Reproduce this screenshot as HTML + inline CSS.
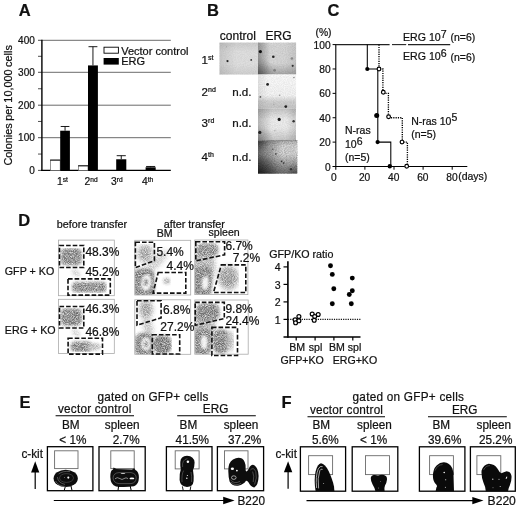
<!DOCTYPE html>
<html lang="en"><head><meta charset="utf-8"><title>Figure</title>
<style>
html,body{margin:0;padding:0;background:#fff;}
svg{display:block;}
text{font-family:"Liberation Sans",Arial,Helvetica,sans-serif;fill:#111;stroke:#111;stroke-width:0.22px;}
</style></head><body>
<svg width="520" height="510" viewBox="0 0 520 510">
<defs>
<filter id="b1" x="-50%" y="-50%" width="200%" height="200%"><feGaussianBlur stdDeviation="1.6"/></filter>
<filter id="b2" x="-50%" y="-50%" width="200%" height="200%"><feGaussianBlur stdDeviation="2.6"/></filter>
<filter id="b05" x="-50%" y="-50%" width="200%" height="200%"><feGaussianBlur stdDeviation="0.45"/></filter>
<filter id="b08" x="-50%" y="-50%" width="200%" height="200%"><feGaussianBlur stdDeviation="0.8"/></filter>
<filter id="st" x="0" y="0" width="100%" height="100%" color-interpolation-filters="sRGB"><feTurbulence type="fractalNoise" baseFrequency="1.1" numOctaves="2" seed="7" result="n"/><feColorMatrix in="n" type="matrix" values="0 0 0 0 0  0 0 0 0 0  0 0 0 0 0  1.5 0 0 0 -0.05" result="na"/><feComposite in="SourceGraphic" in2="na" operator="in"/></filter>
<linearGradient id="oL" x1="0" y1="0" x2="1" y2="0"><stop offset="0" stop-color="#000" stop-opacity="1"/><stop offset="1" stop-color="#000" stop-opacity="0"/></linearGradient>
<linearGradient id="oB" x1="0" y1="1" x2="0" y2="0"><stop offset="0" stop-color="#000" stop-opacity="1"/><stop offset="1" stop-color="#000" stop-opacity="0"/></linearGradient>
<linearGradient id="oT" x1="0" y1="0" x2="0" y2="1"><stop offset="0" stop-color="#000" stop-opacity="1"/><stop offset="1" stop-color="#000" stop-opacity="0"/></linearGradient>
<radialGradient id="oC" cx="0.5" cy="0.5" r="0.5"><stop offset="0" stop-color="#000" stop-opacity="1"/><stop offset="1" stop-color="#000" stop-opacity="0"/></radialGradient>
<clipPath id="cpe1"><rect x="258" y="42.6" width="38.1" height="31.9"/></clipPath>
<clipPath id="cpe3"><rect x="258" y="108.5" width="37.9" height="31.9"/></clipPath>
<clipPath id="cpe4"><rect x="258" y="140.4" width="39.2" height="33.2"/></clipPath>
<filter id="gr" x="0" y="0" width="100%" height="100%" color-interpolation-filters="sRGB"><feTurbulence type="fractalNoise" baseFrequency="0.9" numOctaves="2" seed="11"/><feColorMatrix type="matrix" values="0 0 0 0 0  0 0 0 0 0  0 0 0 0 0  1.8 0 0 0 -0.55"/></filter>
<linearGradient id="gc1" x1="0" y1="0" x2="1" y2="1"><stop offset="0" stop-color="#cfcfcf"/><stop offset="0.4" stop-color="#e0e0e0"/><stop offset="1" stop-color="#d4d4d4"/></linearGradient>
<linearGradient id="ge1" x1="0" y1="1" x2="1" y2="0"><stop offset="0" stop-color="#9c9c9c"/><stop offset="0.5" stop-color="#c8c8c8"/><stop offset="1" stop-color="#d6d6d6"/></linearGradient>
<linearGradient id="ge2" x1="0" y1="0" x2="0" y2="1"><stop offset="0" stop-color="#fafafa"/><stop offset="0.62" stop-color="#f3f3f3"/><stop offset="0.8" stop-color="#cfcfcf"/><stop offset="1" stop-color="#c6c6c6"/></linearGradient>
<radialGradient id="ge3" cx="0.5" cy="0.55" r="0.7"><stop offset="0" stop-color="#f2f2f2"/><stop offset="0.6" stop-color="#e2e2e2"/><stop offset="1" stop-color="#bcbcbc"/></radialGradient>
<linearGradient id="ge4" x1="0" y1="1" x2="1" y2="0"><stop offset="0" stop-color="#4a4a4a"/><stop offset="0.3" stop-color="#a0a0a0"/><stop offset="0.65" stop-color="#d0d0d0"/><stop offset="1" stop-color="#dcdcdc"/></linearGradient>
</defs>

<g id="panelA">
<text x="18.8" y="16" font-size="16.5" font-weight="bold" stroke="#111" stroke-width="0.5">A</text>
<line x1="41.9" y1="137.7" x2="170.8" y2="137.7" stroke="#3a3a3a" stroke-width="0.75"/>
<line x1="41.9" y1="105.2" x2="170.8" y2="105.2" stroke="#3a3a3a" stroke-width="0.75"/>
<line x1="41.9" y1="72.3" x2="170.8" y2="72.3" stroke="#3a3a3a" stroke-width="0.75"/>
<line x1="41.9" y1="40.3" x2="170.8" y2="40.3" stroke="#3a3a3a" stroke-width="0.75"/>
<line x1="38.0" y1="170.4" x2="41.9" y2="170.4" stroke="#222" stroke-width="0.8"/>
<line x1="38.0" y1="154.05" x2="41.9" y2="154.05" stroke="#222" stroke-width="0.8"/>
<line x1="38.0" y1="137.7" x2="41.9" y2="137.7" stroke="#222" stroke-width="0.8"/>
<line x1="38.0" y1="121.45" x2="41.9" y2="121.45" stroke="#222" stroke-width="0.8"/>
<line x1="38.0" y1="105.2" x2="41.9" y2="105.2" stroke="#222" stroke-width="0.8"/>
<line x1="38.0" y1="88.75" x2="41.9" y2="88.75" stroke="#222" stroke-width="0.8"/>
<line x1="38.0" y1="72.3" x2="41.9" y2="72.3" stroke="#222" stroke-width="0.8"/>
<line x1="38.0" y1="56.3" x2="41.9" y2="56.3" stroke="#222" stroke-width="0.8"/>
<line x1="38.0" y1="40.3" x2="41.9" y2="40.3" stroke="#222" stroke-width="0.8"/>
<line x1="41.9" y1="39.8" x2="41.9" y2="171.1" stroke="#000" stroke-width="1.4"/>
<line x1="41.2" y1="170.4" x2="170.8" y2="170.4" stroke="#000" stroke-width="1.4"/>
<text x="34.8" y="174.1" font-size="10" text-anchor="end">0</text>
<text x="34.8" y="141.4" font-size="10" text-anchor="end">100</text>
<text x="34.8" y="108.9" font-size="10" text-anchor="end">200</text>
<text x="34.8" y="76.0" font-size="10" text-anchor="end">300</text>
<text x="34.8" y="44.0" font-size="10" text-anchor="end">400</text>
<text transform="translate(12.3,165.6) rotate(-90)" font-size="10.9" word-spacing="-0.6">Colonies per 10,000 cells</text>
<rect x="50.6" y="160.1" width="9.6" height="10.3" fill="#fff" stroke="#666" stroke-width="0.7"/>
<line x1="50.2" y1="160.1" x2="60.2" y2="160.1" stroke="#111" stroke-width="1.0"/>
<line x1="65.05000000000001" y1="130.71" x2="65.05000000000001" y2="126.49" stroke="#000" stroke-width="0.9"/>
<line x1="60.7" y1="126.49" x2="69.4" y2="126.49" stroke="#000" stroke-width="0.9"/>
<rect x="60.2" y="130.71" width="9.7" height="39.69" fill="#000" stroke="none" stroke-width="1"/>
<rect x="78.60000000000001" y="165.82" width="9.4" height="4.58" fill="#fff" stroke="#666" stroke-width="0.7"/>
<line x1="78.2" y1="165.82" x2="88.0" y2="165.82" stroke="#111" stroke-width="1.0"/>
<line x1="92.95" y1="65.42" x2="92.95" y2="46.7" stroke="#000" stroke-width="0.9"/>
<line x1="88.5" y1="46.7" x2="97.4" y2="46.7" stroke="#000" stroke-width="0.9"/>
<rect x="88.0" y="65.42" width="9.9" height="104.98" fill="#000" stroke="none" stroke-width="1"/>
<line x1="121.25" y1="159.28" x2="121.25" y2="155.69" stroke="#000" stroke-width="0.9"/>
<line x1="116.7" y1="155.69" x2="125.8" y2="155.69" stroke="#000" stroke-width="0.9"/>
<rect x="116.2" y="159.28" width="10.1" height="11.12" fill="#000" stroke="none" stroke-width="1"/>
<line x1="150.64999999999998" y1="167.29" x2="150.64999999999998" y2="166.48" stroke="#000" stroke-width="0.9"/>
<line x1="146.1" y1="166.48" x2="155.2" y2="166.48" stroke="#000" stroke-width="0.9"/>
<rect x="145.6" y="167.29" width="10.1" height="3.11" fill="#000" stroke="none" stroke-width="1"/>
<text x="57.0" y="184.7" font-size="10.3">1<tspan dy="-3.2" font-size="6.6">st</tspan></text>
<text x="84.5" y="184.7" font-size="10.3">2<tspan dy="-3.2" font-size="6.6">nd</tspan></text>
<text x="111.0" y="184.7" font-size="10.3">3<tspan dy="-3.2" font-size="6.6">rd</tspan></text>
<text x="142.0" y="184.7" font-size="10.3">4<tspan dy="-3.2" font-size="6.6">th</tspan></text>
<rect x="104" y="47.2" width="14.4" height="6.0" fill="#fff" stroke="#000" stroke-width="0.9"/>
<rect x="103.6" y="58" width="15.2" height="6.6" fill="#000" stroke="none" stroke-width="1"/>
<text x="121.2" y="54.6" font-size="11">Vector control</text>
<text x="121.2" y="65.4" font-size="11">ERG</text>
</g>
<g id="panelB">
<text x="207.0" y="16" font-size="16.5" font-weight="bold" stroke="#111" stroke-width="0.5">B</text>
<text x="219.8" y="40" font-size="12">control</text>
<text x="265.6" y="40" font-size="12">ERG</text>
<text x="201.6" y="63.7" font-size="11.6">1<tspan dy="-3.6" font-size="7">st</tspan></text>
<text x="201.6" y="95.8" font-size="11.6">2<tspan dy="-3.6" font-size="7">nd</tspan></text>
<text x="201.6" y="126.5" font-size="11.6">3<tspan dy="-3.6" font-size="7">rd</tspan></text>
<text x="201.6" y="160.8" font-size="11.6">4<tspan dy="-3.6" font-size="7">th</tspan></text>
<text x="232.2" y="95.9" font-size="11.6">n.d.</text>
<text x="232.2" y="126.8" font-size="11.6">n.d.</text>
<text x="232.2" y="160.6" font-size="11.6">n.d.</text>
<rect x="219.5" y="42.6" width="38.7" height="31.9" fill="#dedede" stroke="none" stroke-width="1"/>
<rect x="219.5" y="42.6" width="16.5" height="31.9" fill="url(#oL)" stroke="none" stroke-width="1" opacity="0.10"/>
<rect x="219.5" y="42.6" width="38.7" height="9.4" fill="url(#oT)" stroke="none" stroke-width="1" opacity="0.08"/>
<rect x="219.5" y="64" width="38.7" height="10.5" fill="url(#oB)" stroke="none" stroke-width="1" opacity="0.07"/>
<rect x="258.0" y="42.6" width="38.1" height="31.9" fill="#d6d6d6" stroke="none" stroke-width="1"/>
<rect x="258.0" y="42.6" width="12.0" height="31.9" fill="url(#oL)" stroke="none" stroke-width="1" opacity="0.30"/>
<rect x="258.0" y="63" width="38.1" height="11.5" fill="url(#oB)" stroke="none" stroke-width="1" opacity="0.22"/>
<circle cx="258" cy="74.5" r="18" fill="url(#oC)" opacity="0.28" clip-path="url(#cpe1)"/>
<rect x="284" y="42.6" width="12.1" height="31.9" fill="url(#oL)" stroke="none" stroke-width="1" opacity="0.07" transform="rotate(180 290.05 58.55)"/>
<rect x="258.0" y="74.5" width="38.1" height="34.0" fill="url(#ge2)" stroke="none" stroke-width="1"/>
<rect x="258.0" y="74.5" width="10.0" height="34.0" fill="url(#oL)" stroke="none" stroke-width="1" opacity="0.08"/>
<rect x="258.0" y="108.5" width="37.9" height="31.9" fill="#ececec" stroke="none" stroke-width="1"/>
<rect x="258.0" y="108.5" width="37.9" height="10.5" fill="url(#oT)" stroke="none" stroke-width="1" opacity="0.17"/>
<rect x="258.0" y="108.5" width="14.0" height="31.9" fill="url(#oL)" stroke="none" stroke-width="1" opacity="0.22"/>
<rect x="258.0" y="128" width="37.9" height="12.4" fill="url(#oB)" stroke="none" stroke-width="1" opacity="0.16"/>
<rect x="286" y="108.5" width="9.9" height="31.9" fill="url(#oL)" stroke="none" stroke-width="1" opacity="0.12" transform="rotate(180 290.95 124.45)"/>
<circle cx="258" cy="140.4" r="16" fill="url(#oC)" opacity="0.2" clip-path="url(#cpe3)"/>
<rect x="258.0" y="140.4" width="39.2" height="33.2" fill="#d8d8d8" stroke="none" stroke-width="1"/>
<rect x="258.0" y="140.4" width="24.0" height="33.2" fill="url(#oL)" stroke="none" stroke-width="1" opacity="0.50"/>
<rect x="258.0" y="154" width="39.2" height="19.6" fill="url(#oB)" stroke="none" stroke-width="1" opacity="0.50"/>
<rect x="258.0" y="140.4" width="39.2" height="5.6" fill="url(#oT)" stroke="none" stroke-width="1" opacity="0.18"/>
<circle cx="258" cy="173.6" r="20" fill="url(#oC)" opacity="0.45" clip-path="url(#cpe4)"/>
<circle cx="258" cy="140.4" r="12" fill="url(#oC)" opacity="0.35" clip-path="url(#cpe4)"/>
<circle cx="297.2" cy="173.6" r="12" fill="url(#oC)" opacity="0.25" clip-path="url(#cpe4)"/>
<line x1="258.0" y1="140.7" x2="297.2" y2="140.7" stroke="#8a8a8a" stroke-width="0.7"/>
<rect x="258.0" y="140.4" width="39.2" height="33.2" fill="#000" stroke="none" stroke-width="1" filter="url(#gr)" opacity="0.22"/>
<rect x="258.0" y="42.6" width="38.0" height="97.8" fill="#000" stroke="none" stroke-width="1" filter="url(#gr)" opacity="0.08"/>
<rect x="219.5" y="42.6" width="38.5" height="31.9" fill="#000" stroke="none" stroke-width="1" filter="url(#gr)" opacity="0.05"/>
<circle cx="227.5" cy="61.1" r="1.1" fill="#222" filter="url(#b05)"/>
<circle cx="251.2" cy="59.9" r="0.9" fill="#333" filter="url(#b05)"/>
<circle cx="226.5" cy="46.7" r="0.7" fill="#aaa" filter="url(#b05)"/>
<circle cx="260.4" cy="51.6" r="1.6" fill="#111" filter="url(#b05)"/>
<circle cx="273.3" cy="56.8" r="1.3" fill="#222" filter="url(#b05)"/>
<circle cx="291.9" cy="58.5" r="1.3" fill="#888" filter="url(#b05)"/>
<circle cx="292.7" cy="65.8" r="1.1" fill="#333" filter="url(#b05)"/>
<circle cx="274.6" cy="70.3" r="1.4" fill="#808080" filter="url(#b05)"/>
<circle cx="293.9" cy="77.5" r="0.8" fill="#888" filter="url(#b05)"/>
<circle cx="267.6" cy="84.4" r="1.4" fill="#222" filter="url(#b05)"/>
<circle cx="260.4" cy="96.9" r="0.9" fill="#555" filter="url(#b05)"/>
<circle cx="279.7" cy="95.3" r="0.8" fill="#999" filter="url(#b05)"/>
<circle cx="285.8" cy="106.6" r="1.4" fill="#222" filter="url(#b05)"/>
<circle cx="273.7" cy="104.3" r="0.8" fill="#aaa" filter="url(#b05)"/>
<circle cx="279.2" cy="119.4" r="1.6" fill="#1a1a1a" filter="url(#b05)"/>
<circle cx="293.6" cy="121.3" r="1.2" fill="#333" filter="url(#b05)"/>
<circle cx="259.8" cy="132.4" r="1.6" fill="#222" filter="url(#b05)"/>
<circle cx="274.9" cy="130.8" r="0.7" fill="#aaa" filter="url(#b05)"/>
<circle cx="272.8" cy="149.3" r="0.8" fill="#555" filter="url(#b05)"/>
<circle cx="275.8" cy="154" r="0.9" fill="#555" filter="url(#b05)"/>
<circle cx="281.5" cy="161.4" r="0.8" fill="#333" filter="url(#b05)"/>
<circle cx="283.7" cy="163.1" r="0.8" fill="#333" filter="url(#b05)"/>
<circle cx="291" cy="169.2" r="1.2" fill="#333" filter="url(#b05)"/>
<circle cx="260.7" cy="142.4" r="0.9" fill="#444" filter="url(#b05)"/>
</g>
<g id="panelC">
<text x="327.6" y="16" font-size="16.5" font-weight="bold" stroke="#111" stroke-width="0.5">C</text>
<text x="315.5" y="35.9" font-size="10.3">(%)</text>
<line x1="335.8" y1="44.1" x2="335.8" y2="169.7" stroke="#000" stroke-width="1.1"/>
<line x1="332.8" y1="166.5" x2="467.3" y2="166.5" stroke="#000" stroke-width="1.1"/>
<line x1="332.6" y1="166.5" x2="335.8" y2="166.5" stroke="#000" stroke-width="1"/>
<text x="330.6" y="170.5" font-size="10.2" text-anchor="end">0</text>
<line x1="332.6" y1="142.12" x2="335.8" y2="142.12" stroke="#000" stroke-width="1"/>
<text x="330.6" y="146.12" font-size="10.2" text-anchor="end">20</text>
<line x1="332.6" y1="117.74" x2="335.8" y2="117.74" stroke="#000" stroke-width="1"/>
<text x="330.6" y="121.74" font-size="10.2" text-anchor="end">40</text>
<line x1="332.6" y1="93.36" x2="335.8" y2="93.36" stroke="#000" stroke-width="1"/>
<text x="330.6" y="97.36" font-size="10.2" text-anchor="end">60</text>
<line x1="332.6" y1="68.98" x2="335.8" y2="68.98" stroke="#000" stroke-width="1"/>
<text x="330.6" y="72.98" font-size="10.2" text-anchor="end">80</text>
<line x1="332.6" y1="44.6" x2="335.8" y2="44.6" stroke="#000" stroke-width="1"/>
<text x="330.6" y="48.6" font-size="10.2" text-anchor="end">100</text>
<line x1="364.9" y1="166.5" x2="364.9" y2="169.7" stroke="#000" stroke-width="1"/>
<line x1="394.0" y1="166.5" x2="394.0" y2="169.7" stroke="#000" stroke-width="1"/>
<line x1="423.1" y1="166.5" x2="423.1" y2="169.7" stroke="#000" stroke-width="1"/>
<line x1="452.2" y1="166.5" x2="452.2" y2="169.7" stroke="#000" stroke-width="1"/>
<text x="333.8" y="180.9" font-size="10.2" text-anchor="middle">0</text>
<text x="364.59999999999997" y="180.9" font-size="10.2" text-anchor="middle">20</text>
<text x="393.7" y="180.9" font-size="10.2" text-anchor="middle">40</text>
<text x="422.8" y="180.9" font-size="10.2" text-anchor="middle">60</text>
<text x="451.9" y="180.9" font-size="10.2" text-anchor="middle">80</text>
<text x="458.2" y="180.4" font-size="10.5">(days)</text>
<line x1="335.8" y1="44.6" x2="389.6" y2="44.6" stroke="#222" stroke-width="1.1"/>
<line x1="392" y1="44.6" x2="406.2" y2="44.6" stroke="#222" stroke-width="1.1"/>
<line x1="408" y1="44.6" x2="450.2" y2="44.6" stroke="#222" stroke-width="1.1"/>
<polyline fill="none" stroke="#000" stroke-width="1.05" points="367.3,44.6 367.3,68.98 377.8,68.98 377.8,142.12 390.8,142.12 390.8,166.5"/>
<circle cx="367.3" cy="68.98" r="2.1" fill="#000"/>
<circle cx="376.7" cy="115.6" r="2.5" fill="#000"/>
<circle cx="377.6" cy="142.12" r="2.1" fill="#000"/>
<circle cx="389.8" cy="166.2" r="2.2" fill="#000"/>
<polyline fill="none" stroke="#000" stroke-width="1.35" stroke-dasharray="1.2 1.1" points="379,44.6 379,68.98 382.9,68.98 382.9,93.36 388.4,93.36 388.4,117.74 402.3,117.74 402.3,142.12 407.4,142.12 407.4,166.5"/>
<circle cx="379" cy="68.98" r="1.85" fill="#fff" stroke="#000" stroke-width="1.2"/>
<circle cx="383.3" cy="92.2" r="1.85" fill="#fff" stroke="#000" stroke-width="1.2"/>
<circle cx="388.6" cy="116.8" r="1.85" fill="#fff" stroke="#000" stroke-width="1.2"/>
<circle cx="402" cy="142.12" r="1.85" fill="#fff" stroke="#000" stroke-width="1.2"/>
<circle cx="406.7" cy="166.3" r="1.85" fill="#fff" stroke="#000" stroke-width="1.2"/>
<text x="403" y="40.9" font-size="10.6">ERG 10<tspan dy="-3.4">7</tspan></text>
<text x="450.6" y="41.4" font-size="10.4">(n=6)</text>
<text x="403" y="60.3" font-size="10.6">ERG 10<tspan dy="-3.6">6</tspan></text>
<text x="450.6" y="60.8" font-size="10.4">(n=6)</text>
<text x="345" y="134" font-size="10.5">N-ras</text>
<text x="345" y="148.2" font-size="10.5">10<tspan dy="-3.6">6</tspan></text>
<text x="345" y="160.8" font-size="10.5">(n=5)</text>
<text x="411.2" y="125.2" font-size="10.5">N-ras 10<tspan dy="-4.2">5</tspan></text>
<text x="411.2" y="137.8" font-size="10.5">(n=5)</text>
</g>
<g id="panelD">
<text x="18.2" y="226.2" font-size="16.5" font-weight="bold" stroke="#111" stroke-width="0.5">D</text>
<text x="56.8" y="227.8" font-size="10.8">before transfer</text>
<text x="163.7" y="227.8" font-size="10.8">after transfer</text>
<text x="156.8" y="237.4" font-size="10.6">BM</text>
<text x="208.5" y="236.3" font-size="10.6">spleen</text>
<text x="4.8" y="274.5" font-size="10.7">GFP + KO</text>
<text x="4.8" y="334.3" font-size="10.7">ERG + KO</text>
<clipPath id="cpb1"><rect x="58.4" y="240.1" width="55.9" height="55.6"/></clipPath>
<clipPath id="cpb2"><rect x="58.4" y="299.3" width="55.9" height="54.3"/></clipPath>
<clipPath id="cpm1"><rect x="134.8" y="240.3" width="55.9" height="54.7"/></clipPath>
<clipPath id="cpm2"><rect x="134.8" y="299.8" width="55.9" height="54.5"/></clipPath>
<clipPath id="cps1"><rect x="194.8" y="240.0" width="53.1" height="54.6"/></clipPath>
<clipPath id="cps2"><rect x="194.8" y="300.0" width="53.4" height="54.2"/></clipPath>
<g clip-path="url(#cpb1)"><g filter="url(#st)">
<rect x="60.6" y="248.3" width="21.2" height="16.9" rx="5" fill="#6e6e6e" opacity="1" filter="url(#b1)"/>
<rect x="72" y="282" width="34.5" height="10.5" rx="4.5" fill="#6e6e6e" opacity="1" filter="url(#b1)"/>
<ellipse cx="76" cy="273" rx="5" ry="3" fill="#ccc" opacity="1" filter="url(#b1)" transform="rotate(35 76 273)"/>
</g></g>
<g clip-path="url(#cpb2)"><g filter="url(#st)">
<rect x="60.6" y="308.5" width="21.2" height="17.3" rx="5" fill="#6c6c6c" opacity="1" filter="url(#b1)"/>
<rect x="70.5" y="341.5" width="21.5" height="10.5" rx="5" fill="#6e6e6e" opacity="1" filter="url(#b1)"/>
<ellipse cx="94" cy="346.8" rx="7" ry="3.6" fill="#aaa" opacity="1" filter="url(#b1)"/>
<ellipse cx="76" cy="333" rx="5" ry="3" fill="#ccc" opacity="1" filter="url(#b1)" transform="rotate(35 76 333)"/>
</g></g>
<g clip-path="url(#cpm1)"><g filter="url(#st)">
<ellipse cx="156" cy="262" rx="16" ry="5" fill="#c0c0c0" opacity="1" filter="url(#b2)" transform="rotate(-45 156 262)"/>
<ellipse cx="145.2" cy="253.5" rx="7.5" ry="9" fill="#8e8e8e" opacity="1" filter="url(#b2)"/>
<rect x="133" y="268.5" width="21.5" height="28.5" rx="7" fill="#6a6a6a" opacity="1" filter="url(#b1)"/>
<ellipse cx="146.2" cy="282.6" rx="5.0" ry="8.2" fill="#f2f2f2" opacity="1" filter="url(#b08)" transform="rotate(8 146.2 282.6)"/>
<ellipse cx="145.9" cy="282.3" rx="2.0" ry="3.8" fill="#6a6a6a" opacity="1" filter="url(#b08)" transform="rotate(8 145.9 282.3)"/>
<ellipse cx="166.8" cy="281" rx="3.4" ry="3" fill="#9a9a9a" opacity="1" filter="url(#b1)"/>
</g></g>
<g clip-path="url(#cpm2)"><g filter="url(#st)">
<ellipse cx="148" cy="327" rx="4.5" ry="9" fill="#b0b0b0" opacity="1" filter="url(#b2)" transform="rotate(-15 148 327)"/>
<ellipse cx="146" cy="309.5" rx="6.5" ry="9.5" fill="#8a8a8a" opacity="1" filter="url(#b2)"/>
<rect x="134.5" y="333" width="19.0" height="23" rx="7" fill="#6c6c6c" opacity="1" filter="url(#b1)"/>
<ellipse cx="146" cy="344" rx="4.6" ry="6.6" fill="#f0f0f0" opacity="1" filter="url(#b08)"/>
<ellipse cx="146" cy="344" rx="2.0" ry="3.4" fill="#707070" opacity="1" filter="url(#b08)"/>
<rect x="153.5" y="335.5" width="18.0" height="18.0" rx="6.5" fill="#606060" opacity="1" filter="url(#b1)"/>
</g></g>
<g clip-path="url(#cps1)"><g filter="url(#st)">
<ellipse cx="204" cy="266" rx="11" ry="20" fill="#a4a4a4" opacity="1" filter="url(#b2)"/>
<rect x="196.5" y="243.5" width="22.0" height="12.5" rx="5.5" fill="#747474" opacity="1" filter="url(#b1)"/>
<rect x="193" y="266" width="19" height="30.5" rx="7" fill="#6c6c6c" opacity="1" filter="url(#b1)"/>
<ellipse cx="205.3" cy="283" rx="3.4" ry="7" fill="#efefef" opacity="1" filter="url(#b08)" transform="rotate(5 205.3 283)"/>
<ellipse cx="228.6" cy="277.7" rx="10" ry="12" fill="#8c8c8c" opacity="1" filter="url(#b2)"/>
<ellipse cx="227.5" cy="278" rx="4.5" ry="6" fill="#858585" opacity="1" filter="url(#b2)"/>
</g></g>
<g clip-path="url(#cps2)"><g filter="url(#st)">
<ellipse cx="204" cy="328" rx="11" ry="22" fill="#a0a0a0" opacity="1" filter="url(#b2)"/>
<rect x="196" y="303.8" width="23.5" height="16.7" rx="6" fill="#6a6a6a" opacity="1" filter="url(#b1)"/>
<rect x="193.5" y="328" width="17.5" height="28" rx="7" fill="#6e6e6e" opacity="1" filter="url(#b1)"/>
<ellipse cx="204.2" cy="342.3" rx="3.3" ry="7" fill="#ededed" opacity="1" filter="url(#b08)"/>
<rect x="213" y="329.5" width="16" height="24.0" rx="7" fill="#686868" opacity="1" filter="url(#b1)"/>
<ellipse cx="230" cy="341" rx="4" ry="10" fill="#a0a0a0" opacity="1" filter="url(#b2)"/>
</g></g>
<rect x="58.4" y="240.1" width="55.9" height="55.6" fill="none" stroke="#aaa" stroke-width="0.8"/>
<rect x="58.4" y="299.3" width="55.9" height="54.3" fill="none" stroke="#aaa" stroke-width="0.8"/>
<rect x="134.8" y="240.3" width="55.9" height="54.7" fill="none" stroke="#aaa" stroke-width="0.8"/>
<rect x="134.8" y="299.8" width="55.9" height="54.5" fill="none" stroke="#aaa" stroke-width="0.8"/>
<rect x="194.8" y="240.0" width="53.1" height="54.6" fill="none" stroke="#aaa" stroke-width="0.8"/>
<rect x="194.8" y="300.0" width="53.4" height="54.2" fill="none" stroke="#aaa" stroke-width="0.8"/>
<polygon points="59.5,245.5 83.8,245.5 83.8,267.5 59.5,267.5" fill="none" stroke="#111" stroke-width="1.6" stroke-dasharray="4.6 2.0"/>
<polygon points="68.0,278.9 110.3,278.9 110.3,295.1 68.0,295.1" fill="none" stroke="#111" stroke-width="1.6" stroke-dasharray="4.6 2.0"/>
<polygon points="59.5,306.5 83.8,306.5 83.8,328.0 59.5,328.0" fill="none" stroke="#111" stroke-width="1.6" stroke-dasharray="4.6 2.0"/>
<polygon points="68.1,338.2 102.5,338.2 102.5,354.1 68.1,354.1" fill="none" stroke="#111" stroke-width="1.6" stroke-dasharray="4.6 2.0"/>
<polygon points="135.4,242.3 154.4,242.3 154.4,260.7 135.4,267.7" fill="none" stroke="#111" stroke-width="1.6" stroke-dasharray="4.6 2.0"/>
<polygon points="158.2,272.5 185.8,272.5 185.8,293.1 153.1,293.1" fill="none" stroke="#111" stroke-width="1.6" stroke-dasharray="4.6 2.0"/>
<polygon points="137,300.8 161.1,300.8 161.1,317.8 137,325.2" fill="none" stroke="#111" stroke-width="1.6" stroke-dasharray="4.6 2.0"/>
<polygon points="152.3,334.7 179.7,334.7 179.7,354.0 152.3,354.0" fill="none" stroke="#111" stroke-width="1.6" stroke-dasharray="4.6 2.0"/>
<polygon points="195.8,241.8 224.6,241.8 224.6,254.8 195.8,260.9" fill="none" stroke="#111" stroke-width="1.6" stroke-dasharray="4.6 2.0"/>
<polygon points="221.3,264.9 245.8,264.9 245.8,292.5 213.5,292.5" fill="none" stroke="#111" stroke-width="1.6" stroke-dasharray="4.6 2.0"/>
<polygon points="195.2,302.4 224.3,302.4 224.3,318.6 195.2,325.3" fill="none" stroke="#111" stroke-width="1.6" stroke-dasharray="4.6 2.0"/>
<polygon points="211.9,327.4 237.5,327.4 237.5,355.5 211.9,355.5" fill="none" stroke="#111" stroke-width="1.6" stroke-dasharray="4.6 2.0"/>
<text x="85.4" y="256.3" font-size="12">48.3%</text>
<text x="85.4" y="276.4" font-size="12">45.2%</text>
<text x="85.4" y="313.3" font-size="12">46.3%</text>
<text x="85.4" y="335.5" font-size="12">46.8%</text>
<text x="156.4" y="256.1" font-size="12">5.4%</text>
<text x="166.6" y="270.1" font-size="12">4.4%</text>
<text x="163.0" y="313.5" font-size="12">6.8%</text>
<text x="160.3" y="331.3" font-size="12">27.2%</text>
<text x="225.4" y="250.0" font-size="12">6.7%</text>
<text x="232.8" y="262.3" font-size="12">7.2%</text>
<text x="225.4" y="313.3" font-size="12">9.8%</text>
<text x="225.4" y="325.0" font-size="12">24.4%</text>
<text x="269.2" y="257.7" font-size="10.7">GFP/KO ratio</text>
<line x1="287.9" y1="261.3" x2="287.9" y2="337.8" stroke="#000" stroke-width="1.6"/>
<line x1="283.5" y1="337.0" x2="360.5" y2="337.0" stroke="#000" stroke-width="1.6"/>
<line x1="296.2" y1="337.0" x2="296.2" y2="340.4" stroke="#000" stroke-width="1.2"/>
<line x1="315.1" y1="337.0" x2="315.1" y2="340.4" stroke="#000" stroke-width="1.2"/>
<line x1="333.9" y1="337.0" x2="333.9" y2="340.4" stroke="#000" stroke-width="1.2"/>
<line x1="352.8" y1="337.0" x2="352.8" y2="340.4" stroke="#000" stroke-width="1.2"/>
<line x1="283.5" y1="319.4" x2="287.9" y2="319.4" stroke="#000" stroke-width="1.2"/>
<text x="280.7" y="323.5" font-size="10.6" text-anchor="end">1</text>
<line x1="283.5" y1="301.9" x2="287.9" y2="301.9" stroke="#000" stroke-width="1.2"/>
<text x="280.7" y="306.0" font-size="10.6" text-anchor="end">2</text>
<line x1="283.5" y1="284.4" x2="287.9" y2="284.4" stroke="#000" stroke-width="1.2"/>
<text x="280.7" y="288.5" font-size="10.6" text-anchor="end">3</text>
<line x1="283.5" y1="266.9" x2="287.9" y2="266.9" stroke="#000" stroke-width="1.2"/>
<text x="280.7" y="271.0" font-size="10.6" text-anchor="end">4</text>
<line x1="287.9" y1="319.4" x2="360.5" y2="319.4" stroke="#111" stroke-width="1.3" stroke-dasharray="1.2 1.1"/>
<circle cx="295.1" cy="319.8" r="1.95" fill="#fff" stroke="#000" stroke-width="1.2"/>
<circle cx="298.9" cy="316.5" r="1.95" fill="#fff" stroke="#000" stroke-width="1.2"/>
<circle cx="295.6" cy="322.8" r="1.95" fill="#fff" stroke="#000" stroke-width="1.2"/>
<circle cx="298.9" cy="320.8" r="1.95" fill="#fff" stroke="#000" stroke-width="1.2"/>
<circle cx="312.2" cy="314" r="1.95" fill="#fff" stroke="#000" stroke-width="1.2"/>
<circle cx="318.2" cy="314.5" r="1.95" fill="#fff" stroke="#000" stroke-width="1.2"/>
<circle cx="314.7" cy="316.5" r="1.95" fill="#fff" stroke="#000" stroke-width="1.2"/>
<circle cx="314.2" cy="320.3" r="1.95" fill="#fff" stroke="#000" stroke-width="1.2"/>
<circle cx="330.5" cy="265.8" r="2.45" fill="#000"/>
<circle cx="332.3" cy="274.4" r="2.45" fill="#000"/>
<circle cx="333.8" cy="288.7" r="2.45" fill="#000"/>
<circle cx="332.3" cy="303.7" r="2.45" fill="#000"/>
<circle cx="352.3" cy="278.1" r="2.45" fill="#000"/>
<circle cx="352.3" cy="290.7" r="2.45" fill="#000"/>
<circle cx="349.3" cy="294.5" r="2.45" fill="#000"/>
<circle cx="351.3" cy="303.7" r="2.45" fill="#000"/>
<text x="289.3" y="350.8" font-size="10.6">BM</text>
<text x="308.8" y="350.8" font-size="10.6">spl</text>
<text x="329" y="350.8" font-size="10.6">BM</text>
<text x="347.8" y="350.8" font-size="10.6">spl</text>
<text x="280.5" y="363.6" font-size="10.6">GFP+KO</text>
<text x="332.7" y="363.6" font-size="10.6">ERG+KO</text>
</g>
<g id="panelE">
<text x="19.4" y="408" font-size="16.5" font-weight="bold" stroke="#111" stroke-width="0.5">E</text>
<text transform="translate(97.4,400.9) scale(0.95,1)" font-size="12.4" textLength="116.84">gated on GFP+ cells</text>
<text transform="translate(58.0,412.7) scale(0.95,1)" font-size="12.4" textLength="77.16">vector control</text>
<line x1="55.6" y1="415.8" x2="134" y2="415.8" stroke="#000" stroke-width="1.1"/>
<text transform="translate(202.8,412.7) scale(0.95,1)" font-size="12.4">ERG</text>
<line x1="177.2" y1="415.8" x2="255.8" y2="415.8" stroke="#000" stroke-width="1.1"/>
<text transform="translate(62.0,429) scale(0.95,1)" font-size="12.4">BM</text>
<text transform="translate(104.8,428.5) scale(0.95,1)" font-size="12.4">spleen</text>
<text transform="translate(179.6,429) scale(0.95,1)" font-size="12.4">BM</text>
<text transform="translate(223.7,428.5) scale(0.95,1)" font-size="12.4">spleen</text>
<text transform="translate(59.3,443.5) scale(0.95,1)" font-size="12.4">&lt; 1%</text>
<text transform="translate(112.8,443.5) scale(0.95,1)" font-size="12.4">2.7%</text>
<text transform="translate(175.6,443.5) scale(0.95,1)" font-size="12.4">41.5%</text>
<text transform="translate(227.9,443.5) scale(0.95,1)" font-size="12.4">37.2%</text>
<text transform="translate(21.4,458.4) scale(0.95,1)" font-size="12.4">c-kit</text>
<line x1="35.2" y1="489.1" x2="35.2" y2="470" stroke="#000" stroke-width="1.2"/>
<polygon points="35.2,461.3 39.3,472.4 31.1,472.4" fill="#000"/>
<line x1="53.8" y1="500.5" x2="226" y2="500.5" stroke="#000" stroke-width="1.2"/>
<polygon points="234.6,500.5 223.2,496.8 223.2,504.2" fill="#000"/>
<text transform="translate(237.5,505.2) scale(0.95,1)" font-size="12.4">B220</text>
<rect x="47.4" y="446.7" width="45.5" height="44.0" fill="#fff" stroke="#000" stroke-width="1.3"/>
<rect x="54.6" y="450.8" width="23.4" height="17.8" fill="none" stroke="#6a6a6a" stroke-width="0.9"/>
<rect x="99.0" y="446.7" width="46.2" height="44.0" fill="#fff" stroke="#000" stroke-width="1.3"/>
<rect x="110.8" y="450.8" width="23.4" height="17.8" fill="none" stroke="#6a6a6a" stroke-width="0.9"/>
<rect x="166.4" y="446.7" width="45.6" height="44.0" fill="#fff" stroke="#000" stroke-width="1.3"/>
<rect x="175.2" y="450.8" width="23.9" height="18.1" fill="none" stroke="#6a6a6a" stroke-width="0.9"/>
<rect x="217.4" y="446.7" width="46.2" height="44.0" fill="#fff" stroke="#000" stroke-width="1.3"/>
<rect x="224.5" y="450.8" width="23.5" height="18.1" fill="none" stroke="#6a6a6a" stroke-width="0.9"/>
<ellipse cx="65.7" cy="478.4" rx="12.1" ry="8.7" fill="#0d0d0d"/>
<path d="M55.6,481 Q58,486 66,486.6 M57.4,477 Q58,483 65,484.4 M58.6,474 Q63,470.6 70,471.6" fill="none" stroke="#b8b8b8" stroke-width="0.4"/>
<ellipse cx="66.5" cy="478" rx="7" ry="4.4" fill="none" stroke="#8a8a8a" stroke-width="0.35"/>
<path d="M65.4,486.4 L64.2,490.4 M71,486 L72,490.4" stroke="#000" stroke-width="1" fill="none"/>
<circle cx="68.3" cy="477.6" r="1.05" fill="#fff"/><circle cx="64.6" cy="477.6" r="0.45" fill="#ddd"/>
<path d="M110.3,477 Q110.2,470.6 113,469.6 L113.6,467.4 L116.4,469 L132,469.4 L134.4,468.2 L135.4,470 Q138.9,471.6 138.9,477.6 Q138.8,484.6 134,486.2 Q124,487.6 116,486.4 Q110.6,485 110.3,477 Z" fill="#0e0e0e"/>
<path d="M113,478 Q113.4,473 119,472.6 L131,472.6 Q136.2,473.4 136.2,478 Q136,483 131,483.6 L119,483.6 Q113.6,483 113,478 Z" fill="none" stroke="#a8a8a8" stroke-width="0.4"/>
<path d="M115,478.8 Q117,476.6 120,478.6 Q122,480.4 124,478.6 Q126,477 128,478.6" fill="none" stroke="#d8d8d8" stroke-width="0.6"/>
<path d="M118.6,486 L118,490.4 M130.2,486 L131.2,490.4" stroke="#000" stroke-width="1" fill="none"/>
<ellipse cx="131.9" cy="478.4" rx="2.4" ry="0.95" fill="#fff"/><ellipse cx="123" cy="473.6" rx="2.4" ry="0.5" fill="#ccc"/>
<path d="M180.3,462 Q180.6,456 187,455.8 Q194.2,456.2 194.6,462.6 Q194.6,467 193,470 Q194,476 193.6,481 Q193,486.9 187,486.9 Q180.2,486.6 179.6,480 Q179.2,474 180.8,469.6 Q180.1,466 180.3,462 Z" fill="#0c0c0c"/>
<path d="M182.6,467 Q181.8,459.6 187.4,458.6 M182,482 Q181.6,474 183.6,470.6 M191.6,482 Q192,476 191,472" fill="none" stroke="#9a9a9a" stroke-width="0.4"/>
<circle cx="187.9" cy="461.7" r="1.25" fill="#fff"/><circle cx="187.4" cy="475.5" r="0.6" fill="#eee"/><circle cx="186.8" cy="478.2" r="0.75" fill="#eee"/>
<path d="M182.4,486.4 L183.2,490.4 M190.8,486.4 L190.1,490.4" stroke="#000" stroke-width="0.9" fill="none"/>
<path d="M228.3,471 Q228.2,462 233,459.4 Q238,456.6 242,458.6 Q245.8,461.6 245.6,468 Q245.4,471.4 246.6,471.6 Q248,470.4 248.8,468.4 Q250.6,464.6 253,464.7 Q258.4,466.6 258.6,476 Q258.4,485.6 254,487.6 Q250.4,486.6 248.6,482.6 Q247.4,480.4 246,480.8 Q244,484.4 238,485.8 Q232,486.4 229.6,481.6 Q228.4,477.6 228.3,471 Z" fill="#0d0d0d"/>
<path d="M231,482 Q235,486.6 241,483.4 M230.4,479.6 Q234,484.6 240,481.4 M250.4,470 Q253.4,466.6 255.8,471.6 Q257.4,478 254.6,484.4 M252.6,471.6 Q254.6,475.6 253.2,482" fill="none" stroke="#a4a4a4" stroke-width="0.4"/>
<ellipse cx="232.4" cy="468.8" rx="1.6" ry="1.2" fill="#fff"/><circle cx="236.9" cy="470.6" r="0.9" fill="#fff"/><ellipse cx="233.8" cy="477.6" rx="2.3" ry="1.8" fill="none" stroke="#ddd" stroke-width="0.7"/>
</g>
<g id="panelF">
<text x="281.6" y="408" font-size="16.5" font-weight="bold" stroke="#111" stroke-width="0.5">F</text>
<text transform="translate(352.6,400.9) scale(0.95,1)" font-size="12.4" textLength="117.16">gated on GFP+ cells</text>
<text transform="translate(310.0,414.2) scale(0.95,1)" font-size="12.4" textLength="76.84">vector control</text>
<line x1="307.5" y1="416.7" x2="385" y2="416.7" stroke="#000" stroke-width="1.1"/>
<text transform="translate(452.0,414.2) scale(0.95,1)" font-size="12.4">ERG</text>
<line x1="428" y1="416.7" x2="506.8" y2="416.7" stroke="#000" stroke-width="1.1"/>
<text transform="translate(312.5,429) scale(0.95,1)" font-size="12.4">BM</text>
<text transform="translate(357.1,428.5) scale(0.95,1)" font-size="12.4">spleen</text>
<text transform="translate(432.5,429) scale(0.95,1)" font-size="12.4">BM</text>
<text transform="translate(476.5,428.5) scale(0.95,1)" font-size="12.4">spleen</text>
<text transform="translate(312.0,443.5) scale(0.95,1)" font-size="12.4">5.6%</text>
<text transform="translate(360.1,443.5) scale(0.95,1)" font-size="12.4">&lt; 1%</text>
<text transform="translate(428.0,443.5) scale(0.95,1)" font-size="12.4">39.6%</text>
<text transform="translate(479.0,443.5) scale(0.95,1)" font-size="12.4">25.2%</text>
<text transform="translate(275.4,458.0) scale(0.95,1)" font-size="12.4">c-kit</text>
<line x1="288.1" y1="488.8" x2="288.1" y2="470" stroke="#000" stroke-width="1.2"/>
<polygon points="288.1,461.2 292.3,472.2 283.9,472.2" fill="#000"/>
<line x1="306.5" y1="500.6" x2="474" y2="500.6" stroke="#000" stroke-width="1.2"/>
<polygon points="483.5,500.6 472.3,497.0 472.3,504.2" fill="#000"/>
<text x="487.6" y="505.3" font-size="12.1">B220</text>
<rect x="300.4" y="446.8" width="45.2" height="44.4" fill="#fff" stroke="#000" stroke-width="1.3"/>
<rect x="308.6" y="455.7" width="24.0" height="18.9" fill="none" stroke="#6a6a6a" stroke-width="0.9"/>
<rect x="352.2" y="446.8" width="45.6" height="44.4" fill="#fff" stroke="#000" stroke-width="1.3"/>
<rect x="365.5" y="455.7" width="24.0" height="18.9" fill="none" stroke="#6a6a6a" stroke-width="0.9"/>
<rect x="419.4" y="446.8" width="45.5" height="44.4" fill="#fff" stroke="#000" stroke-width="1.3"/>
<rect x="429.6" y="455.7" width="23.8" height="18.9" fill="none" stroke="#6a6a6a" stroke-width="0.9"/>
<rect x="470.4" y="446.8" width="44.9" height="44.4" fill="#fff" stroke="#000" stroke-width="1.3"/>
<rect x="476.9" y="455.7" width="23.9" height="18.9" fill="none" stroke="#6a6a6a" stroke-width="0.9"/>
<path d="M315.6,491.2 Q313.8,480 315.6,471.6 Q317.6,463.6 321,463.3 Q325,463.8 328.6,471 Q332.8,480 334,486.6 L334.4,491.2 Z" fill="#0a0a0a"/>
<path d="M316.6,488 Q315.4,476 318.2,469 Q320,465.4 322.6,466.6 M318.6,488.4 Q317.2,478 319.8,470.6 Q321,468.4 322.6,469.4" fill="none" stroke="#e4e4e4" stroke-width="0.7"/>
<circle cx="323.6" cy="483.4" r="0.5" fill="#aaa"/>
<path d="M370.8,478.6 Q370.6,475.6 373.6,475 Q376,474.6 378,475.6 Q381,474.4 384,475 Q387.2,476 387,479.4 Q386.6,483 385,485.6 Q384,488 384.6,491.2 L375.4,491.2 Q374.4,487 372.6,484.4 Q370.8,481.6 370.8,478.6 Z" fill="#0a0a0a"/>
<circle cx="380.6" cy="481.6" r="0.45" fill="#bbb"/><circle cx="378.6" cy="488" r="0.45" fill="#bbb"/>
<path d="M435.6,491.2 L436.4,487.6 Q437.6,486 436.6,485 Q433,482 432.9,476 Q433,469 436.6,465.4 Q440,462.2 444,462.3 Q449.6,462.8 452.4,468.4 Q453.8,472 453.6,478 L454,491.2 Z" fill="#0a0a0a"/>
<path d="M435,470.6 Q437.6,464.6 442.6,464.6" fill="none" stroke="#999" stroke-width="0.4"/>
<circle cx="444.2" cy="472.4" r="0.75" fill="#fff"/><circle cx="445.7" cy="479.7" r="0.55" fill="#eee"/><circle cx="445.4" cy="487.3" r="0.5" fill="#ddd"/>
<path d="M485.8,491.2 Q485.6,487 483.6,483 Q481,476 481.6,470.6 Q483.6,464.4 488.8,463.8 Q494.6,464 497.4,468.6 Q499.4,472.6 501.4,473.2 Q503.6,472 506.6,471.2 Q510.8,471.4 511.5,476 Q511.8,481 509.8,485.4 Q508.2,488.4 508,491.2 Z" fill="#0a0a0a"/>
<path d="M483.6,470 Q485.6,465.6 490,465.6" fill="none" stroke="#999" stroke-width="0.4"/>
<circle cx="492.8" cy="479.2" r="0.6" fill="#fff"/><circle cx="499" cy="479.2" r="0.5" fill="#eee"/><ellipse cx="506.5" cy="477.7" rx="0.5" ry="1.4" fill="#fff" transform="rotate(25 506.5 477.7)"/><circle cx="500.2" cy="486.4" r="0.5" fill="#ddd"/><circle cx="493" cy="487.8" r="0.45" fill="#ddd"/>
</g>
</svg></body></html>
